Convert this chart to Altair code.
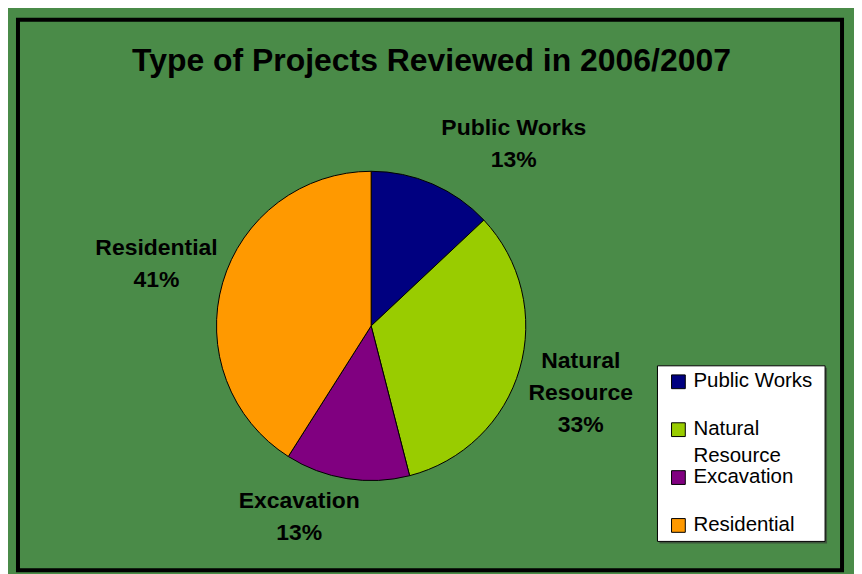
import altair as alt
import pandas as pd

# ---- data ----
categories = ["Public Works", "Natural Resource", "Excavation", "Residential"]
percents = [13, 33, 13, 41]
colors = ["#000080", "#99cc00", "#800080", "#ff9900"]
title_text = "Type of Projects Reviewed in 2006/2007"

df = pd.DataFrame({"cat": categories, "pct": percents,
                   "idx": list(range(len(categories)))})

FONT = "Liberation Sans"
GREEN = "#4a8b48"
CX, CY, R = 354, 307, 155   # pie centre / radius inside the view
LR = 224                    # label radius

# label nudges (style only)
label_shift = {
    "Public Works": (54, 14.5),
    "Natural Resource": (-5, -20.5),
    "Excavation": (-37, -39),
    "Residential": (0, -8.5),
}

base = alt.Chart(df)
color = alt.Color("cat:N", scale=alt.Scale(domain=categories, range=colors), legend=None)

pie = base.mark_arc(outerRadius=R, stroke="black", strokeWidth=1).encode(
    theta=alt.Theta("pct:Q", stack=True),
    color=color,
    order=alt.Order("idx:Q"),
    x=alt.value(CX),
    y=alt.value(CY),
)

label_base = base.transform_window(
    cum="sum(pct)", sort=[alt.SortField("idx")], frame=[None, 0]
).transform_calculate(
    mid="datum.cum - datum.pct / 2",
    lab="replace(datum.cat, 'Natural ', 'Natural\\n') + '\\n' + datum.pct + '%'",
)


def label_layer(cat, dx, dy):
    return label_base.transform_filter(alt.datum.cat == cat).mark_text(
        font=FONT, fontSize=23, fontWeight="bold", lineBreak="\n", lineHeight=32,
        align="center", baseline="alphabetic", dx=dx, dy=dy, color="black",
    ).encode(
        theta=alt.Theta("mid:Q", stack=None),
        radius=alt.value(LR),
        text="lab:N",
        x=alt.value(CX),
        y=alt.value(CY),
    )


labels = [label_layer(c, *label_shift[c]) for c in categories]

# ---- legend drawn with marks ----
box_df = pd.DataFrame({"k": [0]})
shadow = alt.Chart(box_df).mark_rect(fill="#333333", opacity=0.6).encode(
    x=alt.value(643), x2=alt.value(811), y=alt.value(349), y2=alt.value(525)
)
box = alt.Chart(box_df).mark_rect(fill="white", stroke="black", strokeWidth=1).encode(
    x=alt.value(641), x2=alt.value(809), y=alt.value(347), y2=alt.value(523)
)

leg_y = alt.Y("cat:N", scale=alt.Scale(type="point", domain=categories,
                                       range=[363, 507], padding=0), axis=None)

leg_sym = base.mark_square(size=190, stroke="black", strokeWidth=1, opacity=1).encode(
    x=alt.value(662), y=leg_y, color=color,
)
leg_txt = base.transform_calculate(
    ltxt="replace(datum.cat, 'Natural ', 'Natural\\n')"
).mark_text(
    font=FONT, fontSize=20.5, lineBreak="\n", lineHeight=26.5, align="left",
    baseline="alphabetic", dy=5.5, color="black",
).encode(
    x=alt.value(677), y=leg_y, text="ltxt:N",
)

chart = alt.layer(shadow, box, pie, *labels, leg_sym, leg_txt).properties(
    width=826,
    height=552,
    autosize="none",
    padding={"left": 10, "top": 11, "right": 12, "bottom": 3},
    background=GREEN,
    title=alt.TitleParams(
        title_text, font=FONT, fontSize=32, fontWeight="bold", color="black",
        anchor="middle", offset=0, baseline="alphabetic", dy=83, dx=1.5,
    ),
).configure_view(stroke="black", strokeWidth=4)

chart.save("out.html", embed_options={"renderer": "svg", "actions": False})
